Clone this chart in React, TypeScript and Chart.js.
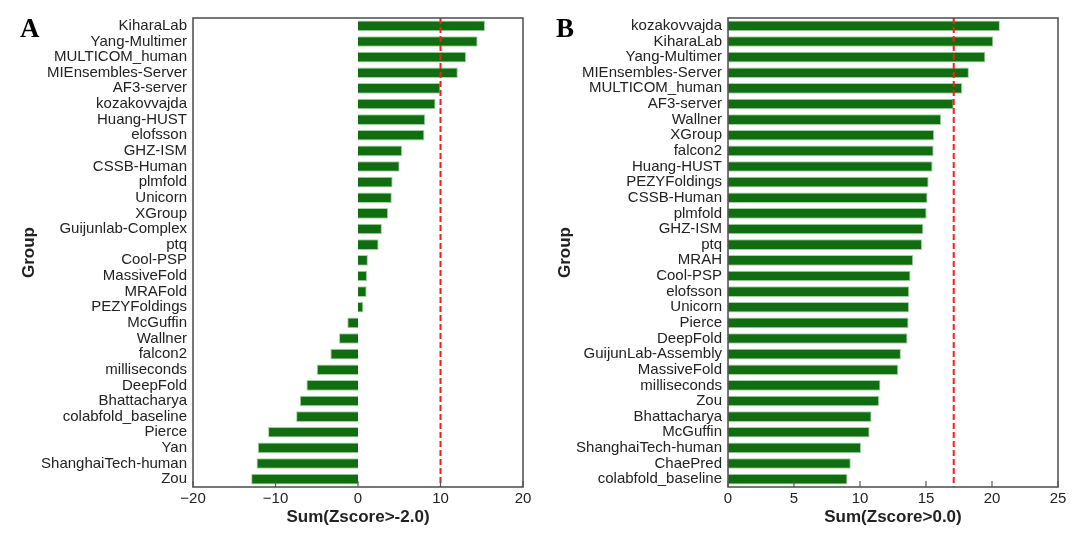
import React, { useEffect, useRef } from "react";
import { Chart, registerables } from "chart.js";

Chart.register(...registerables);

const groupsA = [
  "KiharaLab", "Yang-Multimer", "MULTICOM_human", "MIEnsembles-Server", "AF3-server",
  "kozakovvajda", "Huang-HUST", "elofsson", "GHZ-ISM", "CSSB-Human",
  "plmfold", "Unicorn", "XGroup", "Guijunlab-Complex", "ptq",
  "Cool-PSP", "MassiveFold", "MRAFold", "PEZYFoldings", "McGuffin",
  "Wallner", "falcon2", "milliseconds", "DeepFold", "Bhattacharya",
  "colabfold_baseline", "Pierce", "Yan", "ShanghaiTech-human", "Zou",
];
const valuesA = [
  15.4, 14.5, 13.1, 12.1, 10.0,
  9.4, 8.15, 8.05, 5.35, 5.05,
  4.2, 4.1, 3.65, 2.9, 2.5,
  1.2, 1.1, 1.05, 0.65, -1.3,
  -2.3, -3.35, -5.0, -6.25, -7.05,
  -7.5, -10.9, -12.15, -12.3, -12.95,
];

const groupsB = [
  "kozakovvajda", "KiharaLab", "Yang-Multimer", "MIEnsembles-Server", "MULTICOM_human",
  "AF3-server", "Wallner", "XGroup", "falcon2", "Huang-HUST",
  "PEZYFoldings", "CSSB-Human", "plmfold", "GHZ-ISM", "ptq",
  "MRAH", "Cool-PSP", "elofsson", "Unicorn", "Pierce",
  "DeepFold", "GuijunLab-Assembly", "MassiveFold", "milliseconds", "Zou",
  "Bhattacharya", "McGuffin", "ShanghaiTech-human", "ChaePred", "colabfold_baseline",
];
const valuesB = [
  20.6, 20.1, 19.5, 18.25, 17.75,
  17.1, 16.15, 15.62, 15.58, 15.5,
  15.2, 15.12, 15.05, 14.8, 14.7,
  14.03, 13.83, 13.73, 13.72, 13.68,
  13.6, 13.1, 12.9, 11.55, 11.45,
  10.88, 10.73, 10.08, 9.3, 9.05,
];

const thresholdA = 10;
const thresholdB = 17.1;
const xTitleA = "Sum(Zscore>-2.0)";
const xTitleB = "Sum(Zscore>0.0)";
const yTitle = "Group";

const FONT = "'Liberation Sans', Arial, sans-serif";
const TEXT = "#222222";

const framePlugin = {
  id: "frame",
  afterDatasetsDraw(chart: any, _args: any, opts: any) {
    const { ctx, chartArea, scales } = chart;
    const { left, right, top, bottom } = chartArea;
    const x = scales.x;
    ctx.save();
    const px = x.getPixelForValue(opts.threshold);
    ctx.strokeStyle = "#ff1a1a";
    ctx.lineWidth = 2;
    ctx.setLineDash([6, 3]);
    ctx.beginPath();
    ctx.moveTo(px, top);
    ctx.lineTo(px, bottom);
    ctx.stroke();
    ctx.setLineDash([]);
    ctx.strokeStyle = "#555555";
    ctx.lineWidth = 1.2;
    x.ticks.forEach((t: any) => {
      const p = x.getPixelForValue(t.value);
      ctx.beginPath();
      ctx.moveTo(p, bottom);
      ctx.lineTo(p, bottom - 6);
      ctx.stroke();
    });
    ctx.lineWidth = 1.6;
    ctx.strokeRect(left, top, right - left, bottom - top);
    ctx.restore();
  },
};

type PanelProps = {
  labels: string[];
  values: number[];
  threshold: number;
  xMin: number;
  xMax: number;
  step: number;
  xTitle: string;
  yWidth: number;
  padRight: number;
  titlePad: number;
  left: number;
};

function Panel(p: PanelProps) {
  const ref = useRef<HTMLCanvasElement | null>(null);
  useEffect(() => {
    if (!ref.current) return;
    const chart = new Chart(ref.current, {
      type: "bar",
      data: {
        labels: p.labels,
        datasets: [
          {
            data: p.values,
            backgroundColor: "#106e10",
            borderColor: "rgba(150,200,150,0.85)",
            borderWidth: 1,
            barPercentage: 0.68,
            categoryPercentage: 1,
          },
        ],
      },
      options: {
        indexAxis: "y",
        responsive: false,
        animation: false,
        layout: { padding: { top: 18, right: p.padRight, left: 0, bottom: 0 } },
        plugins: {
          legend: { display: false },
          tooltip: { enabled: false },
          frame: { threshold: p.threshold },
        } as any,
        scales: {
          x: {
            type: "linear",
            min: p.xMin,
            max: p.xMax,
            ticks: {
              stepSize: p.step,
              color: TEXT,
              font: { family: FONT, size: 15 },
              padding: 3,
              callback: (v: any) => (Number(v) < 0 ? "\u2212" + Math.abs(Number(v)) : String(v)),
            },
            grid: { display: false, drawTicks: false },
            border: { display: false },
            title: {
              display: true,
              text: p.xTitle,
              color: TEXT,
              font: { family: FONT, size: 17, weight: "bold" },
              padding: { top: 0, bottom: 12 },
            },
            afterFit: (s: any) => {
              s.height = 53;
            },
          },
          y: {
            ticks: {
              autoSkip: false,
              color: TEXT,
              font: { family: FONT, size: 15 },
              padding: 6,
            },
            grid: { display: false, drawTicks: false },
            border: { display: false },
            title: {
              display: true,
              text: yTitle,
              color: TEXT,
              font: { family: FONT, size: 17, weight: "bold" },
              padding: { top: p.titlePad, bottom: 0 },
            },
            afterFit: (s: any) => {
              s.width = p.yWidth;
            },
          },
        },
      },
      plugins: [framePlugin],
    } as any);
    return () => chart.destroy();
  }, []);
  return (
    <canvas
      ref={ref}
      width={540}
      height={540}
      style={{ position: "absolute", left: p.left, top: 0, width: 540, height: 540 }}
    />
  );
}

const letterStyle: React.CSSProperties = {
  position: "absolute",
  top: 15,
  fontFamily: "'Liberation Serif', 'Times New Roman', serif",
  fontWeight: "bold",
  fontSize: 27,
  lineHeight: 1,
  color: "#000",
};

export default function App() {
  return (
    <div
      style={{
        position: "absolute",
        left: 0,
        top: 0,
        width: 1080,
        height: 540,
        background: "#fff",
        overflow: "hidden",
      }}
    >
      <Panel
        labels={groupsA}
        values={valuesA}
        threshold={thresholdA}
        xMin={-20}
        xMax={20}
        step={10}
        xTitle={xTitleA}
        yWidth={193}
        padRight={17}
        titlePad={19}
        left={0}
      />
      <Panel
        labels={groupsB}
        values={valuesB}
        threshold={thresholdB}
        xMin={0}
        xMax={25}
        step={5}
        xTitle={xTitleB}
        yWidth={188}
        padRight={22}
        titlePad={15}
        left={540}
      />
      <div style={{ ...letterStyle, left: 20 }}>A</div>
      <div style={{ ...letterStyle, left: 556 }}>B</div>
    </div>
  );
}
